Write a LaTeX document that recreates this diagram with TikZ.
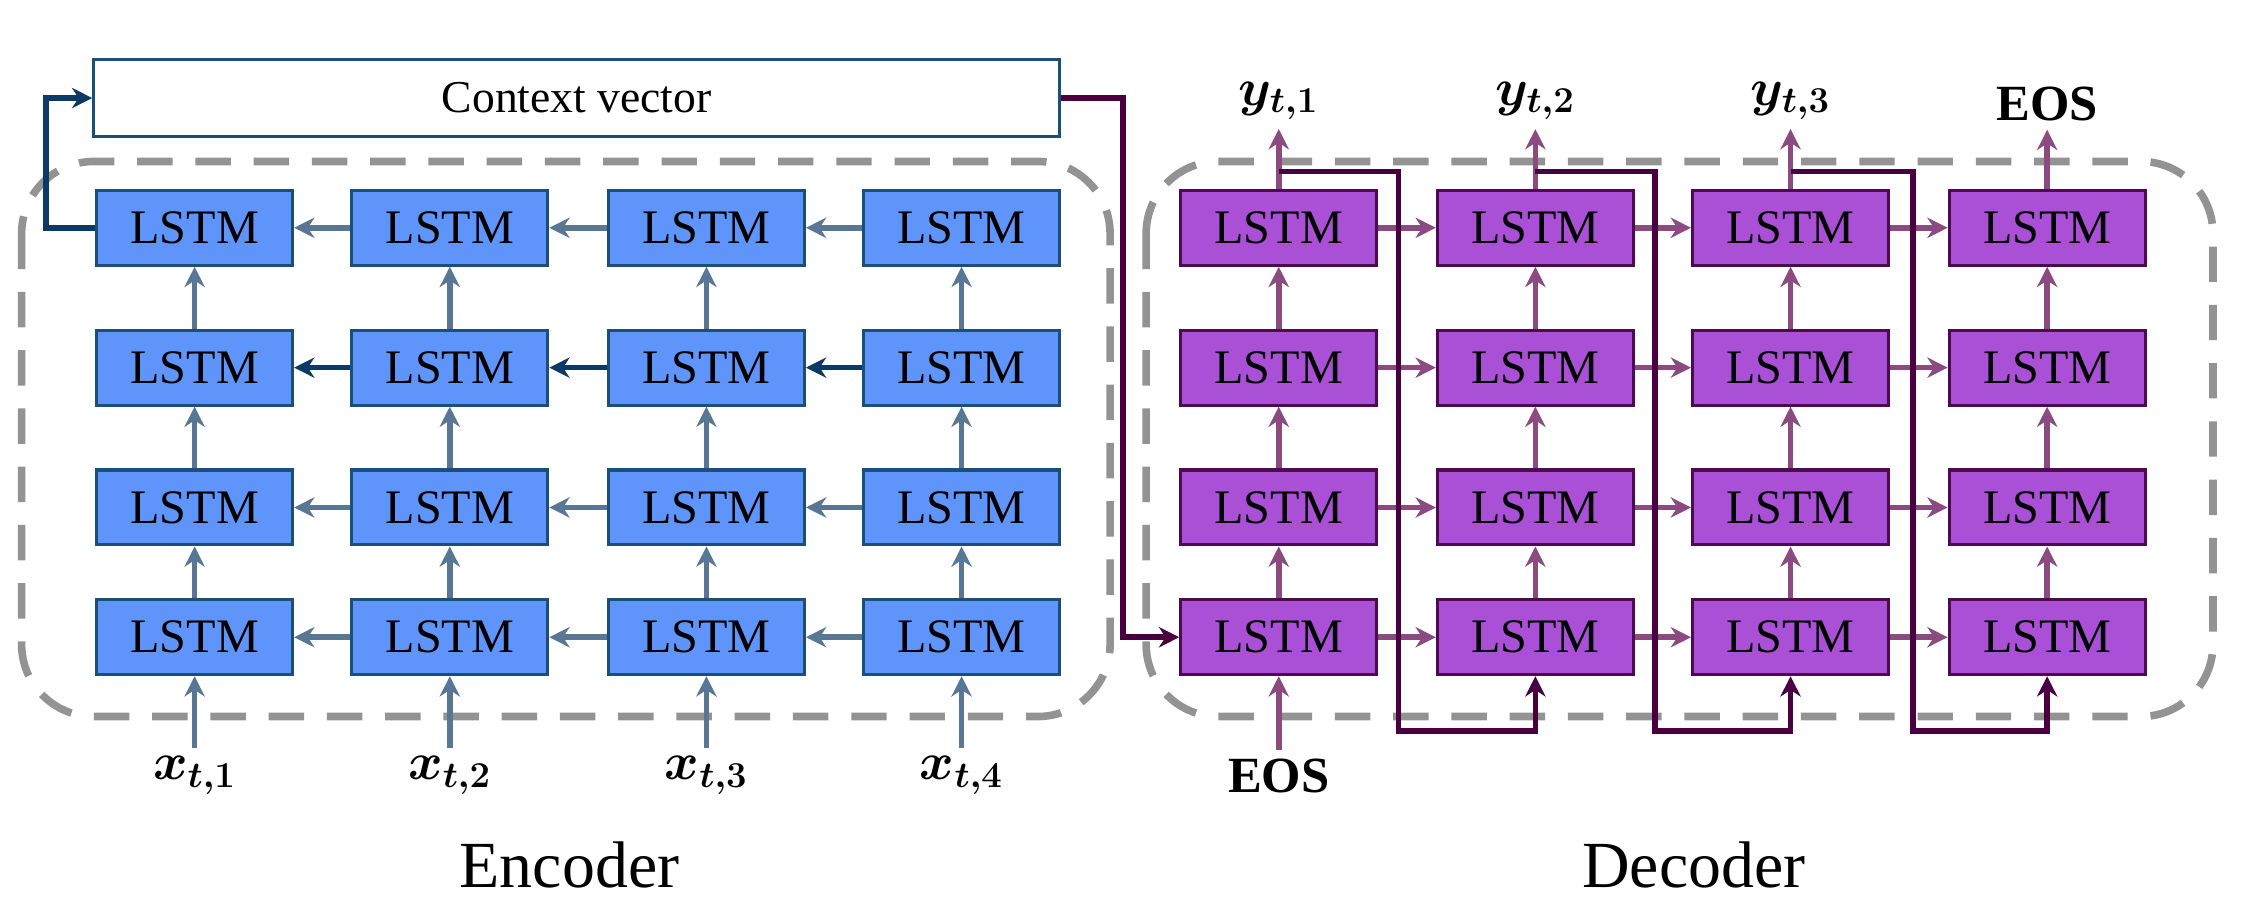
\documentclass[tikz,border=0pt]{standalone}
\usepackage{amsmath}
\usepackage{bm}
\usepackage{fontspec}
\setmainfont{Liberation Serif}
\usetikzlibrary{positioning,calc,arrows.meta}
\definecolor{encfill}{HTML}{5F95FB}
\definecolor{encdraw}{HTML}{1B4F7A}
\definecolor{encarr}{HTML}{5A7695}
\definecolor{encdark}{HTML}{0B3A66}
\definecolor{decfill}{HTML}{AA50D6}
\definecolor{decdraw}{HTML}{4E0A4E}
\definecolor{decarr}{HTML}{8B4A80}
\definecolor{decdark}{HTML}{4A0040}
\begin{document}
\begin{tikzpicture}[x=0.02cm,y=-0.02cm,
    enc/.style={draw=encdraw, fill=encfill, line width=1.2pt, minimum width=2.72cm, minimum height=1.04cm, font=\fontsize{19}{20}\selectfont},
    dec/.style={enc, draw=decdraw, fill=decfill},
    earrow/.style={-{Stealth[length=8pt,width=8pt]}, line width=2.2pt, encarr},
    darrow/.style={-{Stealth[length=8pt,width=8pt]}, line width=2.2pt, decarr},
    group/.style={draw=gray!85, dashed, line width=3pt, dash pattern=on 14pt off 9pt, rounded corners=1cm},
    label/.style={font=\bfseries\fontsize{20}{22}\selectfont}
]
\useasboundingbox (0,0) rectangle (1560,630);

% Groups
\draw[group] (15,112) rectangle (770,497);
\draw[group] (795,112) rectangle (1535,497);

% Context vector
\node[draw=encdraw, line width=1.2pt, minimum width=13.4cm, minimum height=1.06cm, font=\fontsize{18}{20}\selectfont] (ctx) at (400,68) {Context vector};

% Encoder and decoder cells
\foreach \r/\y in {1/158,2/255,3/352,4/442} {
  \foreach \c/\x in {1/135,2/312,3/490,4/667}
    \node[enc] (e\r\c) at (\x,\y) {LSTM};
  \foreach \c/\x in {1/887,2/1065,3/1242,4/1420}
    \node[dec] (d\r\c) at (\x,\y) {LSTM};
}

% Encoder arrows (right to left)
\foreach \r in {1,3,4} {
  \draw[earrow] (e\r2) -- (e\r1);
  \draw[earrow] (e\r3) -- (e\r2);
  \draw[earrow] (e\r4) -- (e\r3);
}
\draw[earrow, encdark] (e22) -- (e21);
\draw[earrow, encdark] (e23) -- (e22);
\draw[earrow, encdark] (e24) -- (e23);

% Decoder arrows (left to right)
\foreach \r in {1,2,3,4} {
  \draw[darrow] (d\r1) -- (d\r2);
  \draw[darrow] (d\r2) -- (d\r3);
  \draw[darrow] (d\r3) -- (d\r4);
}

% Vertical arrows
\foreach \c in {1,2,3,4} {
  \draw[earrow] (e4\c) -- (e3\c);
  \draw[earrow] (e3\c) -- (e2\c);
  \draw[earrow] (e2\c) -- (e1\c);
  \draw[darrow] (d4\c) -- (d3\c);
  \draw[darrow] (d3\c) -- (d2\c);
  \draw[darrow] (d2\c) -- (d1\c);
}

% Inputs
\foreach \c/\x in {1/135,2/312,3/490,4/667} {
  \node[label] (x\c) at (\x,538) {$\bm{x_{t,\c}}$};
  \draw[earrow] (x\c) -- (e4\c);
}
\node[label] (eosin) at (887,538) {EOS};
\draw[darrow] (eosin) -- (d41);

% Outputs
\foreach \c/\x in {1/887,2/1065,3/1242} {
  \node[label] (y\c) at (\x,70) {$\bm{y_{t,\c}}$};
  \draw[darrow] (d1\c) -- (y\c);
}
\node[label] (eosout) at (1420,72) {EOS};
\draw[darrow] (d14) -- (eosout);

% Context links
\draw[-{Stealth[length=8pt,width=8pt]}, line width=2.2pt, encdark] (e11.west) -- ++(-34,0) |- (ctx.west);
\draw[-{Stealth[length=8pt,width=8pt]}, line width=2.2pt, decdark] (ctx.east) -- ++(43,0) |- (d41.west);

% Feedback of outputs
\foreach \a/\b/\xm in {1/2/970,2/3/1148,3/4/1327}
  \draw[-{Stealth[length=8pt,width=8pt]}, line width=2.2pt, decdark]
    ($(d1\a.north)+(0,-12)$) -| (\xm,507) -| (d4\b.south);

% Group labels
\node[font=\fontsize{26}{28}\selectfont] (enclabel) at (395,600) {Encoder};
\node[font=\fontsize{26}{28}\selectfont] (declabel) at (1175,600) {Decoder};
\end{tikzpicture}
\end{document}
